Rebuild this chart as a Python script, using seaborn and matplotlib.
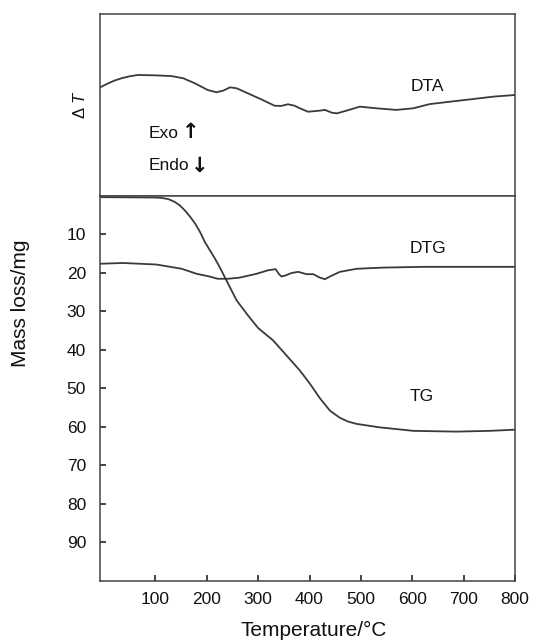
import matplotlib
matplotlib.use("Agg")
import matplotlib.pyplot as plt
import seaborn as sns
import pandas as pd

# ---- data ----
dta_temp = [-8, 8, 20, 34, 50, 66, 99, 131, 154, 177, 202, 219, 232, 245, 258, 280, 306,
            332, 345, 358, 371, 381, 397, 420, 430, 443, 453, 472, 498, 530, 569, 602,
            634, 673, 719, 758, 800]
dta_signal = [59.7, 61.9, 63.4, 64.7, 65.8, 66.5, 66.3, 65.9, 64.7, 61.9, 58.2, 57.0,
              57.9, 59.7, 59.2, 56.4, 53.1, 49.6, 49.5, 50.4, 49.6, 48.2, 46.3, 46.9,
              47.3, 45.8, 45.4, 46.9, 49.1, 48.2, 47.3, 48.2, 50.5, 51.8, 53.3, 54.6, 55.5]

tg_temp = [-8, 50, 100, 112, 125, 137, 147, 157, 167, 177, 187, 196, 206, 216, 226, 235,
           258, 280, 300, 329, 355, 381, 401, 420, 440, 459, 475, 492, 537, 602, 686,
           751, 800]
tg_mass = [0.3, 0.35, 0.4, 0.5, 0.8, 1.5, 2.4, 3.7, 5.3, 7.1, 9.4, 11.9, 14.1, 16.3,
           18.7, 21.1, 27.1, 31.0, 34.3, 37.5, 41.4, 45.3, 48.8, 52.5, 55.8, 57.6, 58.6,
           59.2, 60.1, 61.0, 61.2, 61.0, 60.7]

dtg_temp = [-8, 37, 102, 151, 180, 205, 221, 241, 264, 297, 319, 334, 340, 345, 352,
            365, 378, 394, 407, 420, 430, 440, 459, 492, 543, 621, 800]
dtg_mass = [17.6, 17.4, 17.8, 18.9, 20.2, 20.9, 21.5, 21.5, 21.2, 20.2, 19.3, 19.0,
            20.2, 20.9, 20.7, 20.0, 19.7, 20.3, 20.3, 21.2, 21.6, 20.9, 19.7, 18.9,
            18.6, 18.4, 18.4]

x_ticks = [100, 200, 300, 400, 500, 600, 700, 800]
y_ticks = [10, 20, 30, 40, 50, 60, 70, 80, 90]

# ---- style ----
sns.set_theme(style="white")
plt.rcParams["font.family"] = ["Liberation Sans", "DejaVu Sans"]
plt.rcParams["mathtext.fontset"] = "custom"
plt.rcParams["mathtext.rm"] = "Liberation Sans"
plt.rcParams["mathtext.it"] = "Liberation Sans:italic"

line_c = "#3a3a3a"
spine_c = "#444444"
text_c = "#111111"

fig = plt.figure(figsize=(5.33, 6.40), dpi=100)
ax_top = fig.add_axes([0.1876, 0.69375, 0.7786, 0.284375])
ax_bot = fig.add_axes([0.1876, 0.09219, 0.7786, 0.60156])

dta_df = pd.DataFrame({"T": dta_temp, "v": dta_signal})
tg_df = pd.DataFrame({"T": tg_temp, "v": tg_mass})
dtg_df = pd.DataFrame({"T": dtg_temp, "v": dtg_mass})

sns.lineplot(data=dta_df, x="T", y="v", ax=ax_top, color=line_c, lw=1.3, estimator=None)
sns.lineplot(data=tg_df, x="T", y="v", ax=ax_bot, color=line_c, lw=1.3, estimator=None)
sns.lineplot(data=dtg_df, x="T", y="v", ax=ax_bot, color=line_c, lw=1.3, estimator=None)

# top panel
ax_top.set_xlim(-8, 800)
ax_top.set_ylim(0, 100)
ax_top.set_xticks([])
ax_top.set_yticks([])
ax_top.set_xlabel("")
ax_top.set_ylabel(r"$\Delta\ T$", fontsize=12, color=text_c)
ax_top.yaxis.set_label_coords(-0.03, 0.5)
for s in ax_top.spines.values():
    s.set_color(spine_c)
    s.set_linewidth(1.1)
ax_top.text(0.788, 0.604, "DTA", transform=ax_top.transAxes, fontsize=12.5,
            ha="center", va="center", color=text_c)
ax_top.text(0.116, 0.343, "Exo", transform=ax_top.transAxes, fontsize=12.5,
            ha="left", va="center", color=text_c)
ax_top.text(0.218, 0.35, "↑", transform=ax_top.transAxes, fontsize=15,
            ha="center", va="center", color=text_c, family="DejaVu Sans",
            fontweight="bold")
ax_top.text(0.116, 0.168, "Endo", transform=ax_top.transAxes, fontsize=12.5,
            ha="left", va="center", color=text_c)
ax_top.text(0.241, 0.168, "↓", transform=ax_top.transAxes, fontsize=15,
            ha="center", va="center", color=text_c, family="DejaVu Sans",
            fontweight="bold")

# bottom panel
ax_bot.set_xlim(-8, 800)
ax_bot.set_ylim(100, 0)
ax_bot.set_xticks(x_ticks)
ax_bot.set_xticklabels([str(t) for t in x_ticks])
ax_bot.set_yticks(y_ticks)
ax_bot.set_yticklabels([str(t) for t in y_ticks])
ax_bot.tick_params(axis="both", direction="in", length=4, width=1.4, color=spine_c,
                   labelsize=12.5, labelcolor=text_c, bottom=True, left=True)
ax_bot.tick_params(axis="x", pad=8)
ax_bot.tick_params(axis="y", pad=10)
for s in ax_bot.spines.values():
    s.set_color(spine_c)
    s.set_linewidth(1.1)
ax_bot.set_xlabel("Temperature/°C", fontsize=15, color=text_c)
ax_bot.set_ylabel("Mass loss/mg", fontsize=15, color=text_c)
ax_bot.xaxis.set_label_coords(0.516, -0.105)
ax_bot.yaxis.set_label_coords(-0.168, 0.722)
ax_bot.text(0.790, 0.8636, "DTG", transform=ax_bot.transAxes, fontsize=12.5,
            ha="center", va="center", color=text_c)
ax_bot.text(0.776, 0.479, "TG", transform=ax_bot.transAxes, fontsize=12.5,
            ha="center", va="center", color=text_c)

fig.savefig("out.png", dpi=100)
